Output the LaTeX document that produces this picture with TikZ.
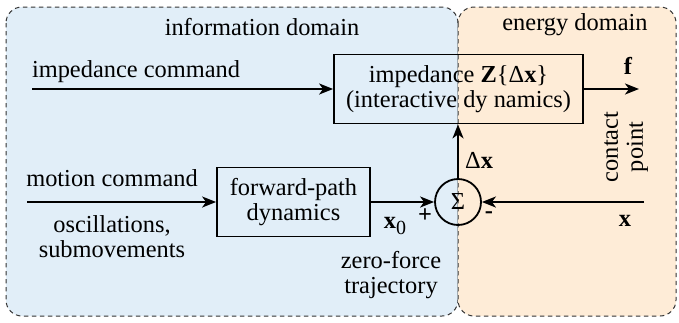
\documentclass[tikz,border=0pt]{standalone}
\usepackage{fontspec}
\setmainfont{Liberation Serif}
\usepackage{tikz}
\usetikzlibrary{arrows.meta,positioning}
\definecolor{infoblue}{RGB}{225,238,248}
\definecolor{energyorange}{RGB}{254,236,215}
\tikzset{
  region/.style={draw=black!80, dash pattern=on 2.2pt off 1.8pt, line width=0.5pt, rounded corners=8pt},
  block/.style={draw, line width=0.9pt, align=center, minimum height=34.5pt, inner sep=1pt},
  sumnode/.style={draw, circle, line width=0.9pt, minimum size=23pt, inner sep=0pt},
  signal/.style={-{Stealth[length=7pt,width=5.5pt,inset=2pt]}, line width=1pt},
}
\newcommand{\bvec}[1]{\textbf{#1}}

\begin{document}
\begin{tikzpicture}[x=0.5pt, y=-0.5pt, font=\fontsize{12.2}{12.5}\selectfont]
	\useasboundingbox (0,0) rectangle (679,322);
	% the two domains
	\filldraw[region, fill=infoblue] (6,7) rectangle (458,316);
	\filldraw[region, fill=energyorange] (458,7) rectangle (676,316);
	\node (infolabel) at (262,27) {information domain};
	\node (energylabel) at (575,25) {energy domain};
	% blocks
	\node[block, minimum width=124.5pt] (impbox) at (458.5,89)
		{impedance \bvec{Z}\{Δ\bvec{x}\}\\(interactive dy namics)};
	\node[block, minimum width=76.5pt] (fwdbox) at (293.5,202) {forward-path\\dynamics};
	\node[sumnode] (sum) at (458,202) {Σ};
	% free ends
	\coordinate (impin) at (32,89);
	\coordinate (motin) at (27,202);
	\coordinate (fout) at (639,89);
	\coordinate (xin) at (644,202);
	% signals
	\draw[signal] (impin) -- (impbox.west);
	\draw[signal] (motin) -- (fwdbox.west);
	\draw[signal] (fwdbox.east) -- (sum.west);
	\draw[signal] (xin) -- (sum.east);
	\draw[signal] (sum.north) -- (impbox.south -| sum.north);
	\draw[signal] (impbox.east |- fout) -- (fout);
	% labels
	\node (impcmd) at (136,72) {impedance command};
	\node (motcmd) at (112,178) {motion command};
	\node[align=center] (osc) at (112,237) {oscillations,\\submovements};
	\node[align=center] (zeroforce) at (391,275) {zero-force\\trajectory};
	\node (dxlabel) at (479,160) {Δ\bvec{x}};
	\node (x0label) at (395,226) {\bvec{x}\raisebox{-0.6ex}{\fontsize{10}{10}\selectfont 0}};
	\node (plus) at (425,216) {\bfseries +};
	\node (minus) at (489,215) {\bfseries -};
	\node (xlabel) at (625,221) {\bvec{x}};
	\node (flabel) at (628,66) {\bvec{f}};
	\node[rotate=90, align=center] (contact) at (626,147) {contact\\point};
\end{tikzpicture}
\end{document}
